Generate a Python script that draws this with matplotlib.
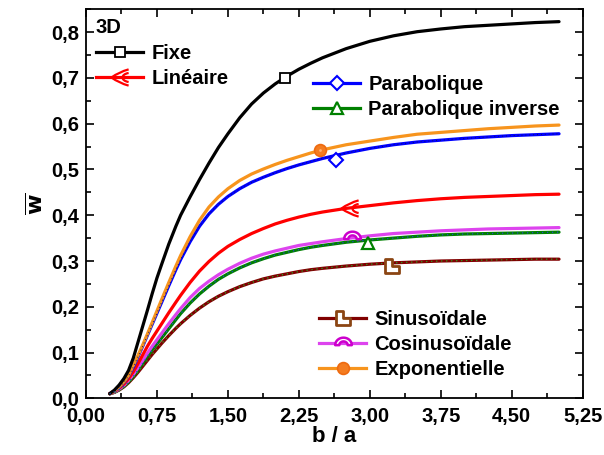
import numpy as np
import matplotlib
matplotlib.use("Agg")
import matplotlib.pyplot as plt
from matplotlib.path import Path
from matplotlib.lines import Line2D
from matplotlib.ticker import FixedLocator, MultipleLocator

plt.rcParams['font.family'] = ['Liberation Sans', 'DejaVu Sans']
plt.rcParams['font.weight'] = 'bold'
plt.rcParams['mathtext.default'] = 'bf'

# b/a ratio
ratio = [0.25, 0.30, 0.35, 0.40, 0.45, 0.50, 0.55, 0.60, 0.65, 0.70, 0.75, 0.80,
         0.875, 0.95, 1.0, 1.1, 1.2, 1.3, 1.4, 1.5, 1.625, 1.75, 1.875, 2.0,
         2.125, 2.25, 2.375, 2.5, 2.75, 3.0, 3.25, 3.5, 3.75, 4.0, 4.25, 4.5, 4.75, 5.0]

# dimensionless deflection for each load distribution
w_fixe = [0.010, 0.018, 0.029, 0.043, 0.061, 0.088, 0.123, 0.158, 0.193, 0.229, 0.263, 0.293,
          0.337, 0.376, 0.400, 0.440, 0.478, 0.514, 0.548, 0.578, 0.613, 0.643, 0.667, 0.687,
          0.704, 0.719, 0.732, 0.744, 0.764, 0.780, 0.792, 0.801, 0.807, 0.812, 0.815, 0.818, 0.821, 0.823]
w_lineaire = [0.010, 0.015, 0.022, 0.031, 0.043, 0.058, 0.076, 0.095, 0.114, 0.131, 0.147, 0.163,
              0.187, 0.210, 0.225, 0.253, 0.278, 0.299, 0.317, 0.332, 0.347, 0.360, 0.371, 0.381,
              0.389, 0.396, 0.402, 0.407, 0.415, 0.421, 0.427, 0.432, 0.436, 0.439, 0.441, 0.443, 0.445, 0.446]
w_parabolique = [0.010, 0.016, 0.024, 0.035, 0.049, 0.068, 0.091, 0.114, 0.138, 0.162, 0.186, 0.210,
                 0.246, 0.281, 0.303, 0.342, 0.376, 0.403, 0.424, 0.441, 0.458, 0.472, 0.483, 0.493,
                 0.502, 0.510, 0.517, 0.524, 0.536, 0.546, 0.554, 0.560, 0.564, 0.568, 0.571, 0.574, 0.576, 0.578]
w_parab_inv = [0.010, 0.013, 0.019, 0.026, 0.036, 0.048, 0.062, 0.077, 0.092, 0.106, 0.119, 0.132,
               0.152, 0.172, 0.185, 0.208, 0.228, 0.245, 0.260, 0.272, 0.285, 0.296, 0.305, 0.313,
               0.319, 0.325, 0.330, 0.334, 0.341, 0.346, 0.350, 0.354, 0.357, 0.359, 0.360, 0.361, 0.362, 0.363]
w_sinus = [0.010, 0.013, 0.018, 0.025, 0.034, 0.045, 0.057, 0.070, 0.083, 0.096, 0.108, 0.120,
           0.137, 0.153, 0.163, 0.181, 0.197, 0.211, 0.223, 0.233, 0.244, 0.253, 0.261, 0.267,
           0.272, 0.277, 0.281, 0.284, 0.289, 0.293, 0.296, 0.298, 0.300, 0.301, 0.302, 0.303, 0.304, 0.304]
w_cosinus = [0.010, 0.014, 0.020, 0.028, 0.039, 0.052, 0.067, 0.083, 0.099, 0.114, 0.128, 0.142,
             0.163, 0.183, 0.196, 0.220, 0.240, 0.256, 0.270, 0.282, 0.295, 0.306, 0.315, 0.322,
             0.328, 0.334, 0.338, 0.342, 0.349, 0.355, 0.360, 0.363, 0.366, 0.368, 0.370, 0.371, 0.372, 0.373]
w_expo = [0.010, 0.016, 0.025, 0.036, 0.050, 0.072, 0.094, 0.117, 0.141, 0.166, 0.191, 0.216,
          0.253, 0.289, 0.312, 0.353, 0.389, 0.418, 0.440, 0.458, 0.476, 0.490, 0.501, 0.511,
          0.520, 0.528, 0.536, 0.543, 0.554, 0.562, 0.570, 0.577, 0.581, 0.585, 0.589, 0.592, 0.595, 0.597]

# single symbol per curve
sym_x = {'Fixe': 2.10, 'Linéaire': 2.79, 'Parabolique': 2.64, 'Parabolique inverse': 2.98,
         'Sinusoïdale': 3.23, 'Cosinusoïdale': 2.81, 'Exponentielle': 2.47}
sym_y = {'Fixe': 0.700, 'Linéaire': 0.415, 'Parabolique': 0.521, 'Parabolique inverse': 0.339,
         'Sinusoïdale': 0.289, 'Cosinusoïdale': 0.353, 'Exponentielle': 0.543}

xtick_vals = [0.0, 0.75, 1.5, 2.25, 3.0, 3.75, 4.5, 5.25]
xtick_labels = ['0,00', '0,75', '1,50', '2,25', '3,00', '3,75', '4,50', '5,25']
ytick_vals = [0.0, 0.1, 0.2, 0.3, 0.4, 0.5, 0.6, 0.7, 0.8]
ytick_labels = ['0,0', '0,1', '0,2', '0,3', '0,4', '0,5', '0,6', '0,7', '0,8']

# custom marker shapes
arrow_marker = Path(
    [(0.9, 0.9), (-0.2, 0.6), (-1.0, 0.0), (-0.2, -0.6), (0.9, -0.9),
     (0.9, 0.5), (0.0, 0.35), (0.0, -0.35), (0.9, -0.5)],
    [Path.MOVETO, Path.CURVE3, Path.CURVE3, Path.CURVE3, Path.CURVE3,
     Path.MOVETO, Path.CURVE4, Path.CURVE4, Path.CURVE4])
th = np.linspace(0, np.pi, 20)
arch_verts = list(zip(np.cos(th), np.sin(th) * 0.9)) + list(zip(0.5 * np.cos(th[::-1]), 0.45 * np.sin(th[::-1])))
arch_verts = [(vx, vy - 0.2) for vx, vy in arch_verts]
arch_marker = Path(arch_verts + [arch_verts[0]],
                   [Path.MOVETO] + [Path.LINETO] * (len(arch_verts) - 1) + [Path.CLOSEPOLY])
ell_marker = Path([(-1, -1), (1, -1), (1, 0), (0, 0), (0, 1), (-1, 1), (-1, -1)],
                  [Path.MOVETO] + [Path.LINETO] * 5 + [Path.CLOSEPOLY])

styles = {
    'Fixe': dict(color='black', marker='s', mec='black', mfc='white', ms=7, mew=1.3),
    'Linéaire': dict(color='#ff0000', marker=arrow_marker, mec='#ff0000', mfc='none', ms=13, mew=1.6),
    'Parabolique': dict(color='#0000ff', marker='D', mec='#0000ff', mfc='white', ms=7, mew=1.5),
    'Parabolique inverse': dict(color='#008000', marker='^', mec='#008000', mfc='white', ms=9, mew=1.6),
    'Sinusoïdale': dict(color='#800000', marker=ell_marker, mec='#8b4513', mfc='white', ms=10, mew=2.0),
    'Cosinusoïdale': dict(color='#dd44ee', marker=arch_marker, mec='#cc00cc', mfc='white', ms=12, mew=1.8),
    'Exponentielle': dict(color='#f7941d', marker='o', mec='#ee6a10', mfc='#f47c20', ms=8.5, mew=1.2),
}
series = {
    'Fixe': w_fixe, 'Linéaire': w_lineaire, 'Parabolique': w_parabolique,
    'Parabolique inverse': w_parab_inv, 'Sinusoïdale': w_sinus,
    'Cosinusoïdale': w_cosinus, 'Exponentielle': w_expo,
}
order = ['Sinusoïdale', 'Parabolique inverse', 'Cosinusoïdale', 'Linéaire',
         'Parabolique', 'Exponentielle', 'Fixe']

fig = plt.figure(figsize=(6.04, 4.55), dpi=100)
ax = fig.add_axes([0.1424, 0.1246, 0.8223, 0.855])

lw = 2.3
for name in order:
    st = styles[name]
    ax.plot(ratio, series[name], color=st['color'], lw=lw, zorder=2,
            solid_capstyle='round', solid_joinstyle='round')
# dotted overlays where curves coincide
ax.plot(ratio, w_sinus, color='#22aa22', lw=0.9, ls=(0, (1, 3)), zorder=2.1)
ax.plot(ratio, w_parab_inv, color='#2244cc', lw=0.9, ls=(0, (1, 3)), zorder=2.1)
ax.plot(ratio, w_parabolique, color='#101060', lw=0.7, ls=(0, (1, 3)), zorder=2.1)

for name in order:
    st = styles[name]
    ax.plot([sym_x[name]], [sym_y[name]], ls='none', marker=st['marker'], ms=st['ms'],
            mec=st['mec'], mfc=st['mfc'], mew=st['mew'], zorder=3)
ax.plot([sym_x['Exponentielle']], [sym_y['Exponentielle']], ls='none', marker='o', ms=2,
        mfc='#ffb070', mec='none', zorder=4)


def handle(name):
    st = styles[name]
    return Line2D([], [], color=st['color'], lw=lw, marker=st['marker'], ms=st['ms'],
                  mec=st['mec'], mfc=st['mfc'], mew=st['mew'])


fs_leg = 14.5
leg_kw = dict(frameon=False, prop=dict(size=fs_leg, weight='bold'), handlelength=2.35,
              handletextpad=0.4, labelspacing=0.32, borderaxespad=0.0, borderpad=0.0,
              numpoints=1)
leg1 = ax.legend([handle('Fixe'), handle('Linéaire')], ['Fixe', 'Linéaire'],
                 title='3D', title_fontproperties=dict(size=fs_leg, weight='bold'),
                 alignment='left', loc='upper left', bbox_to_anchor=(0.02, 0.977), **leg_kw)
ax.add_artist(leg1)
leg2 = ax.legend([handle('Parabolique'), handle('Parabolique inverse')],
                 ['Parabolique', 'Parabolique inverse'],
                 loc='upper left', bbox_to_anchor=(0.457, 0.831), **leg_kw)
ax.add_artist(leg2)
leg3 = ax.legend([handle('Sinusoïdale'), handle('Cosinusoïdale'), handle('Exponentielle')],
                 ['Sinusoïdale', 'Cosinusoïdale', 'Exponentielle'],
                 loc='upper left', bbox_to_anchor=(0.469, 0.228), **leg_kw)

ax.set_xlim(0, 5.25)
ax.set_ylim(0, 0.85)
ax.xaxis.set_major_locator(FixedLocator(xtick_vals))
ax.set_xticklabels(xtick_labels)
ax.xaxis.set_minor_locator(MultipleLocator(0.375))
ax.yaxis.set_major_locator(FixedLocator(ytick_vals))
ax.set_yticklabels(ytick_labels)
ax.yaxis.set_minor_locator(MultipleLocator(0.05))
ax.tick_params(which='both', direction='in', top=True, right=True, width=1.2)
ax.tick_params(which='major', length=6, labelsize=14.5)
ax.tick_params(axis='x', which='major', pad=6.5)
ax.tick_params(axis='y', which='major', pad=5)
ax.tick_params(which='minor', length=3.5)
for lab in ax.get_xticklabels() + ax.get_yticklabels():
    lab.set_fontweight('bold')
for sp in ax.spines.values():
    sp.set_linewidth(1.3)

ax.set_xlabel('b / a', fontsize=16, fontweight='bold', labelpad=0)
ax.set_ylabel(r'$\overline{\mathbf{w}}$', fontsize=16, labelpad=2)

fig.savefig('out.png', dpi=100)
